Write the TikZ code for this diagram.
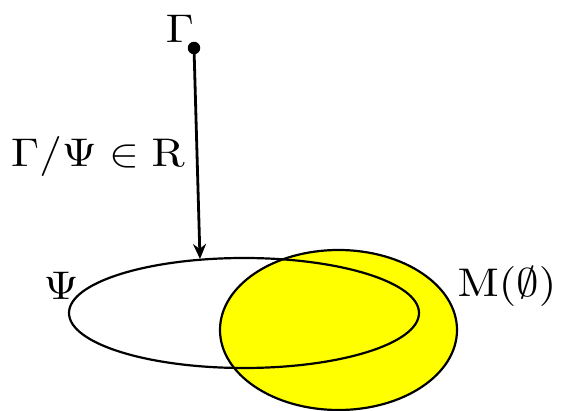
\documentclass[tikz,border=0pt]{standalone}
\usetikzlibrary{shapes.geometric,arrows.meta}
\definecolor{setyellow}{RGB}{255,255,0}
\newcommand{\biglbl}[1]{\scalebox{4.5}[4.0]{$#1$}}
\begin{document}
\begin{tikzpicture}[x=1pt,y=-1pt,
  lbl/.style={inner sep=0pt},
  setshape/.style={ellipse,draw=black,line width=2.2pt,inner sep=0pt},
  conn/.style={line width=2.8pt,-{Stealth[length=15pt,width=13pt]}}]
\useasboundingbox (0,0) rectangle (566,411);
\node[setshape,fill=setyellow,minimum width=237pt,minimum height=160pt] (m) at (338.5,330) {};
\node[setshape,minimum width=350pt,minimum height=110pt] (psi) at (244,313) {};
\node[circle,fill=black,inner sep=0pt,minimum size=12.5pt] (dot) at (194,48) {};
\coordinate (tip) at (200,259);
\draw[conn] (dot.center) -- (tip);
\node[lbl] (g) at (180,29) {\biglbl{\Gamma}};
\node[lbl] (rel) at (98,157) {\biglbl{\Gamma/\Psi\in\mathrm{R}}};
\node[lbl] (psil) at (61,286) {\biglbl{\Psi}};
\node[lbl] (ml) at (507,287) {\biglbl{\mathrm{M}(\emptyset)}};
\end{tikzpicture}
\end{document}
